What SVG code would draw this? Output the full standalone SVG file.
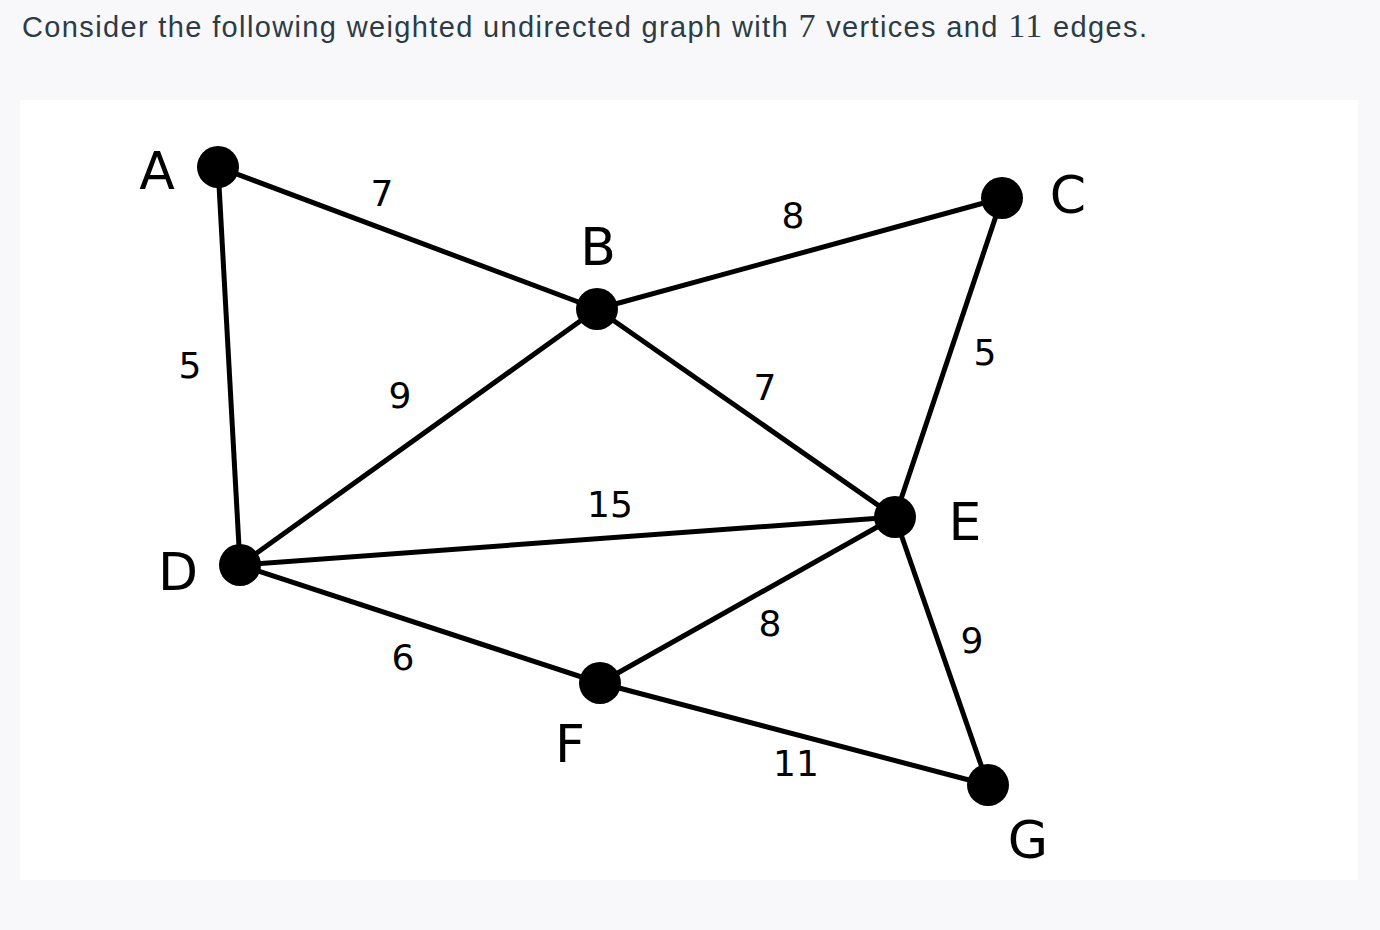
<svg xmlns="http://www.w3.org/2000/svg" width="1380" height="930" viewBox="0 0 1380 930">
<style>
.e{stroke:#000;stroke-width:5;fill:none}
.n{fill:#000}
.v{font-family:"DejaVu Sans",sans-serif;font-size:52px;fill:#000;text-anchor:middle}
.w{font-family:"DejaVu Sans",sans-serif;font-size:36px;fill:#000;text-anchor:middle}
</style>
<rect width="1380" height="930" fill="#f8f8fa"/>
<rect x="20" y="100" width="1338" height="780" fill="#fff"/>
<text x="22" y="37" font-family="Liberation Sans,Arial,sans-serif" font-size="29" fill="#2d3b45" textLength="1125" lengthAdjust="spacing">Consider the following weighted undirected graph with <tspan font-family="Liberation Serif,serif" font-size="34">7</tspan> vertices and <tspan font-family="Liberation Serif,serif" font-size="34">11</tspan> edges.</text>
<g id="edges">
<line class="e" x1="218" y1="167" x2="597" y2="309"/>
<line class="e" x1="218" y1="167" x2="240" y2="565"/>
<line class="e" x1="597" y1="309" x2="1002" y2="198"/>
<line class="e" x1="597" y1="309" x2="240" y2="565"/>
<line class="e" x1="597" y1="309" x2="895" y2="517"/>
<line class="e" x1="1002" y1="198" x2="895" y2="517"/>
<line class="e" x1="240" y1="565" x2="895" y2="517"/>
<line class="e" x1="240" y1="565" x2="600" y2="683"/>
<line class="e" x1="895" y1="517" x2="600" y2="683"/>
<line class="e" x1="895" y1="517" x2="988" y2="785"/>
<line class="e" x1="600" y1="683" x2="988" y2="785"/>
</g>
<g id="weights">
<text class="w" x="382" y="206">7</text>
<text class="w" x="793" y="228">8</text>
<text class="w" x="190" y="378">5</text>
<text class="w" x="400" y="408">9</text>
<text class="w" x="765" y="400">7</text>
<text class="w" x="985" y="365">5</text>
<text class="w" x="610" y="517">15</text>
<text class="w" x="770" y="636">8</text>
<text class="w" x="972" y="653">9</text>
<text class="w" x="403" y="670">6</text>
<text class="w" x="796" y="776">11</text>
</g>
<g id="A"><circle class="n" cx="218" cy="167" r="21"/><text class="v" x="157" y="189">A</text></g>
<g id="B"><circle class="n" cx="597" cy="309" r="21"/><text class="v" x="598" y="265">B</text></g>
<g id="C"><circle class="n" cx="1002" cy="198" r="21"/><text class="v" x="1068" y="213">C</text></g>
<g id="D"><circle class="n" cx="240" cy="565" r="21"/><text class="v" x="178" y="590">D</text></g>
<g id="E"><circle class="n" cx="895" cy="517" r="21"/><text class="v" x="965" y="540">E</text></g>
<g id="F"><circle class="n" cx="600" cy="683" r="21"/><text class="v" x="570" y="762">F</text></g>
<g id="G"><circle class="n" cx="988" cy="785" r="21"/><text class="v" x="1028" y="858">G</text></g>
</svg>
